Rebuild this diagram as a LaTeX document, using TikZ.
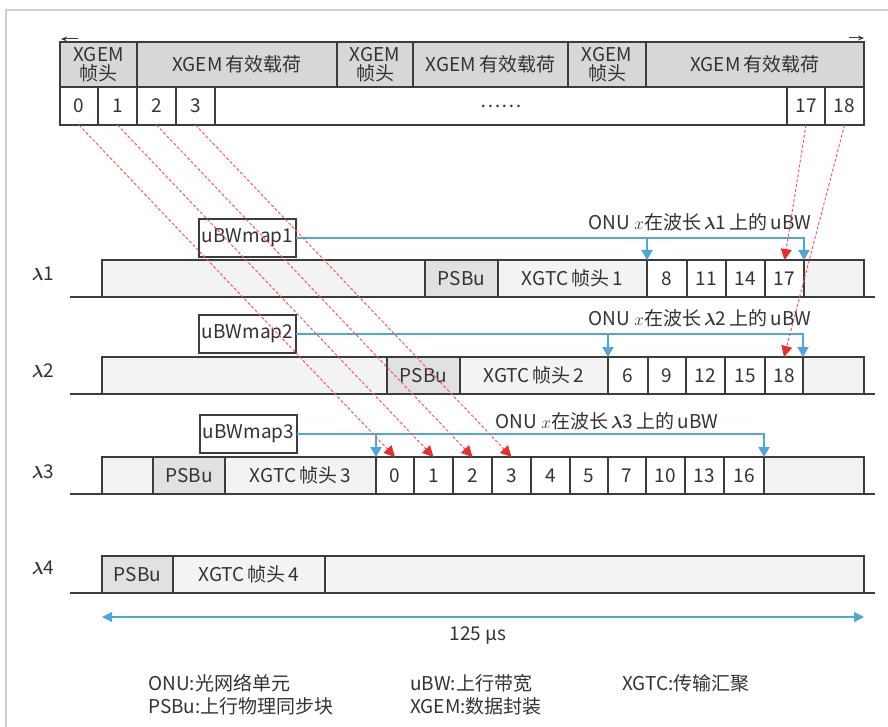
\documentclass[tikz,border=0pt]{standalone}
\usepackage{fontspec}
\setmainfont{Noto Sans CJK SC}
\usetikzlibrary{arrows.meta}
\definecolor{edge}{HTML}{3C3C3C}
\definecolor{txt}{HTML}{333333}
\definecolor{xgemfill}{HTML}{D7D7D7}
\definecolor{lightfill}{HTML}{F3F3F3}
\definecolor{psbufill}{HTML}{E1E1E1}
\definecolor{bluec}{HTML}{4EA6DC}
\definecolor{dashred}{HTML}{F25B5B}
\definecolor{arrred}{HTML}{E8302A}
\definecolor{framec}{HTML}{CFCFCF}
\newcommand{\cellbox}[7]{\node[#1,minimum width={(#5-#3)*1pt},minimum height={(#6-#4)*1pt},anchor=north west] (#2) at (#3,#4) {#7};}
\newcommand{\lam}{{\boldmath$\lambda$}}
\begin{document}
\begin{tikzpicture}[x=1pt,y=-1pt,font=\fontsize{19}{19}\selectfont,
  cell/.style={draw=edge,line width=1.1pt,inner sep=0pt,outer sep=0pt,text=txt,fill=white,align=center},
  gcell/.style={cell,fill=xgemfill},
  lcell/.style={cell,fill=lightfill},
  pcell/.style={cell,fill=psbufill},
  lbl/.style={text=txt,inner sep=0pt},
  groundline/.style={draw=edge,line width=1.1pt},
  blueconn/.style={draw=bluec,line width=2pt,-{Triangle[width=11pt,length=10pt]}},
  dimconn/.style={draw=bluec,line width=1.5pt,{Triangle[width=10pt,length=10pt]}-{Triangle[width=10pt,length=10pt]}},
  redconn/.style={draw=dashred,line width=1pt,dash pattern=on 3pt off 2pt,-{Triangle[width=11pt,length=11pt,color=arrred]}},
  tinyarrow/.style={draw=edge,line width=1pt,-{Stealth[length=6pt,width=5pt]}},
  framestyle/.style={draw=framec,line width=1.5pt}]
\useasboundingbox (0,0) rectangle (888,727);
% frame
\coordinate (fa) at (888,10);
\coordinate (fb) at (6,10);
\coordinate (fc) at (6,727);
\draw[framestyle] (fa) -- (fb) -- (fc);
% top bar
\cellbox{gcell}{h1}{60}{42}{137}{87}{XGEM\\帧头}
\cellbox{gcell}{p1}{137}{42}{337}{87}{XGEM\,有效载荷}
\cellbox{gcell}{h2}{337}{42}{413}{87}{XGEM\\帧头}
\cellbox{gcell}{p2}{413}{42}{568}{87}{XGEM\,有效载荷}
\cellbox{gcell}{h3}{568}{42}{646}{87}{XGEM\\帧头}
\cellbox{gcell}{p3}{646}{42}{864}{87}{XGEM\,有效载荷}
\cellbox{cell}{t0}{60}{87}{98}{125}{0}
\cellbox{cell}{t1}{98}{87}{137}{125}{1}
\cellbox{cell}{t2}{137}{87}{176}{125}{2}
\cellbox{cell}{t3}{176}{87}{215}{125}{3}
\cellbox{cell}{tdots}{215}{87}{787}{125}{……}
\cellbox{cell}{t17}{787}{87}{825}{125}{17}
\cellbox{cell}{t18}{825}{87}{864}{125}{18}
\coordinate (ca1) at (78,39);
\coordinate (ca2) at (61,39);
\coordinate (ca3) at (849,38);
\coordinate (ca4) at (864,38);
\draw[tinyarrow] (ca1) -- (ca2);
\draw[tinyarrow] (ca3) -- (ca4);
% lambda labels
\node[lbl] (l1) at (43,274) {\lam1};
\node[lbl] (l2) at (43,371) {\lam2};
\node[lbl] (l3) at (43,472) {\lam3};
\node[lbl] (l4) at (43,568) {\lam4};
% ground lines
\coordinate (g1l) at (70,297); \coordinate (g1r) at (875,297);
\coordinate (g2l) at (70,394); \coordinate (g2r) at (875,394);
\coordinate (g3l) at (70,494); \coordinate (g3r) at (875,494);
\coordinate (g4l) at (70,593); \coordinate (g4r) at (875,593);
\draw[groundline] (g1l) -- (g1r);
\draw[groundline] (g2l) -- (g2r);
\draw[groundline] (g3l) -- (g3r);
\draw[groundline] (g4l) -- (g4r);
% row 1
\cellbox{lcell}{r1a}{102}{260}{425}{297}{}
\cellbox{pcell}{r1p}{425}{260}{498}{297}{PSBu}
\cellbox{lcell}{r1h}{498}{260}{647}{297}{XGTC\,帧头\,1}
\cellbox{cell}{r1c8}{647}{260}{687}{297}{8}
\cellbox{cell}{r1c11}{687}{260}{726}{297}{11}
\cellbox{cell}{r1c14}{726}{260}{765}{297}{14}
\cellbox{cell}{r1c17}{765}{260}{804}{297}{17}
\cellbox{lcell}{r1e}{804}{260}{864}{297}{}
% row 2
\cellbox{lcell}{r2a}{102}{357}{387}{394}{}
\cellbox{pcell}{r2p}{387}{357}{460}{394}{PSBu}
\cellbox{lcell}{r2h}{460}{357}{608}{394}{XGTC\,帧头\,2}
\cellbox{cell}{r2c6}{608}{357}{648}{394}{6}
\cellbox{cell}{r2c9}{648}{357}{686}{394}{9}
\cellbox{cell}{r2c12}{686}{357}{725}{394}{12}
\cellbox{cell}{r2c15}{725}{357}{765}{394}{15}
\cellbox{cell}{r2c18}{765}{357}{803}{394}{18}
\cellbox{lcell}{r2e}{803}{357}{864}{394}{}
% row 3
\cellbox{lcell}{r3a}{102}{457}{153}{494}{}
\cellbox{pcell}{r3p}{153}{457}{225}{494}{PSBu}
\cellbox{lcell}{r3h}{225}{457}{376}{494}{XGTC\,帧头\,3}
\cellbox{cell}{r3c0}{376}{457}{414}{494}{0}
\cellbox{cell}{r3c1}{414}{457}{453}{494}{1}
\cellbox{cell}{r3c2}{453}{457}{492}{494}{2}
\cellbox{cell}{r3c3}{492}{457}{531}{494}{3}
\cellbox{cell}{r3c4}{531}{457}{570}{494}{4}
\cellbox{cell}{r3c5}{570}{457}{608}{494}{5}
\cellbox{cell}{r3c7}{608}{457}{646}{494}{7}
\cellbox{cell}{r3c10}{646}{457}{685}{494}{10}
\cellbox{cell}{r3c13}{685}{457}{724}{494}{13}
\cellbox{cell}{r3c16}{724}{457}{764}{494}{16}
\cellbox{lcell}{r3e}{764}{457}{864}{494}{}
% row 4
\cellbox{pcell}{r4p}{102}{556}{173}{593}{PSBu}
\cellbox{lcell}{r4h}{173}{556}{325}{593}{XGTC\,帧头\,4}
\cellbox{lcell}{r4e}{325}{556}{864}{593}{}
% uBWmap boxes
\cellbox{cell}{map1}{199}{219}{296}{257}{uBWmap1}
\cellbox{cell}{map2}{199}{315}{296}{353}{uBWmap2}
\cellbox{cell}{map3}{200}{415}{297}{453}{uBWmap3}
% ONU labels
\node[lbl] (o1) at (700,222) {ONU $x$在波长\,\lam1\,上的\,uBW};
\node[lbl] (o2) at (700,318) {ONU $x$在波长\,\lam2\,上的\,uBW};
\node[lbl] (o3) at (607,421) {ONU $x$在波长\,\lam3\,上的\,uBW};
% blue connectors
\draw[blueconn] (map1.east) -| (r1e.north west);
\draw[blueconn] (map1.east -| r1c8.north west) -- (r1c8.north west);
\draw[blueconn] (map2.east) -| (r2e.north west);
\draw[blueconn] (map2.east -| r2c6.north west) -- (r2c6.north west);
\draw[blueconn] (map3.east) -| (r3e.north west);
\draw[blueconn] (map3.east -| r3c0.north west) -- (r3c0.north west);
% red dashed connectors
\draw[redconn] (t0.south) -- (r3c0.north);
\draw[redconn] (t1.south) -- (r3c1.north);
\draw[redconn] (t2.south) -- (r3c2.north);
\draw[redconn] (t3.south) -- (r3c3.north);
\draw[redconn] (t17.south) -- (r1c17.north);
\draw[redconn] (t18.south) -- (r2c18.north);
% dimension
\coordinate (dl) at (102,617);
\coordinate (dr) at (864,617);
\draw[dimconn] (dl) -- (dr);
\node[lbl] (dim) at (478,635) {125 µs};
% legend
\node[lbl,anchor=west] (lg1) at (148,683) {ONU:光网络单元};
\node[lbl,anchor=west] (lg2) at (148,706) {PSBu:上行物理同步块};
\node[lbl,anchor=west] (lg3) at (410,683) {uBW:上行带宽};
\node[lbl,anchor=west] (lg4) at (410,706) {XGEM:数据封装};
\node[lbl,anchor=west] (lg5) at (622,683) {XGTC:传输汇聚};
\end{tikzpicture}
\end{document}
